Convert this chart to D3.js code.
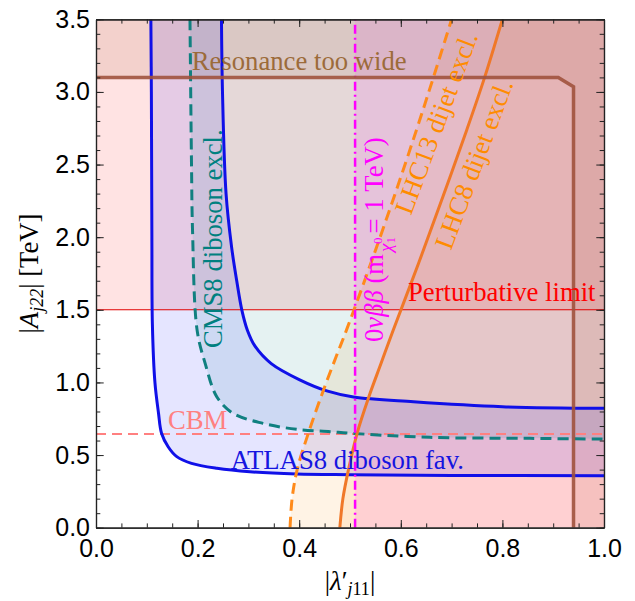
<!DOCTYPE html>
<html><head><meta charset="utf-8">
<script src="https://cdn.jsdelivr.net/npm/d3@7"></script>
<style>
body{margin:0;background:#fff;}
svg{display:block;}
text{font-family:"Liberation Serif","Times New Roman",serif;}
.tick text{font-family:"Liberation Sans",Arial,sans-serif;}
</style>
</head><body>
<svg id="chart" width="635" height="601"></svg>
<script>
// ---- data ----
const xTickValues = [0, 0.2, 0.4, 0.6, 0.8, 1.0];
const yTickValues = [0, 0.5, 1.0, 1.5, 2.0, 2.5, 3.0, 3.5];
const atlasInner = [[0.108,3.5],[0.109,3.0],[0.110,2.0],[0.111,1.4],[0.116,1.0],[0.123,0.79],[0.129,0.65],[0.142,0.557],[0.159,0.489],[0.188,0.443],[0.238,0.409],[0.303,0.385],[0.395,0.37],[0.5,0.365],[0.7,0.36],[1.0,0.358]];
const atlasOuter = [[0.247,3.5],[0.249,3.0],[0.256,2.3],[0.267,1.93],[0.277,1.7],[0.287,1.5],[0.298,1.36],[0.313,1.25],[0.345,1.13],[0.40,1.02],[0.456,0.94],[0.507,0.90],[0.625,0.867],[0.8,0.833],[1.0,0.822]];
const cmsExcl = [[0.185,3.5],[0.188,2.5],[0.190,2.05],[0.199,1.36],[0.215,1.13],[0.238,0.90],[0.270,0.787],[0.329,0.718],[0.395,0.677],[0.461,0.661],[0.502,0.65],[0.657,0.622],[0.854,0.615],[1.0,0.61]];
const lhc13 = [[0.382,0],[0.386,0.2],[0.396,0.4],[0.418,0.65],[0.447,0.94],[0.473,1.18],[0.493,1.36],[0.541,1.82],[0.587,2.28],[0.631,2.74],[0.666,3.12],[0.7,3.5]];
const lhc8 = [[0.48,0],[0.486,0.2],[0.497,0.4],[0.514,0.65],[0.537,0.9],[0.561,1.13],[0.585,1.36],[0.635,1.82],[0.683,2.28],[0.73,2.74],[0.765,3.1],[0.8,3.5]];
const resonance = [[0,3.1],[0.91,3.1],[0.94,3.035],[0.94,0]];
const perturbativeLimit = 1.5;
const cbmLevel = 0.645;
const zeroNuBB = 0.51;

// ---- layout ----
const svg = d3.select("#chart");
const x = d3.scaleLinear().domain([0,1]).range([96,604]);
const y = d3.scaleLinear().domain([0,3.5]).range([527.7,19.3]);
const X0=x(0),X1=x(1),Y0=y(0),Y1=y(3.5);

svg.append("defs").append("clipPath").attr("id","clip")
  .append("rect").attr("x",X0).attr("y",Y1).attr("width",X1-X0).attr("height",Y0-Y1);
const plot = svg.append("g").attr("clip-path","url(#clip)");

const line = d3.line().x(d=>x(d[0])).y(d=>y(d[1])).curve(d3.curveCatmullRom.alpha(0.5));
const lin = d3.line().x(d=>x(d[0])).y(d=>y(d[1]));
const P = (a,b)=>"L"+x(a)+","+y(b);

// fills
plot.append("rect").attr("x",X0).attr("y",Y1).attr("width",X1-X0).attr("height",y(perturbativeLimit)-Y1)
  .attr("fill","rgba(255,0,0,0.11)");
plot.append("path").attr("d", lin([[0,3.5],[1,3.5],[1,0],[0.94,0],[0.94,3.035],[0.91,3.1],[0,3.1]])+"Z")
  .attr("fill","rgba(160,82,45,0.12)");
plot.append("path").attr("d", line(lhc13)+P(1,3.5)+P(1,0)+"Z").attr("fill","rgba(255,140,0,0.1)");
plot.append("path").attr("d", line(lhc8)+P(1,3.5)+P(1,0)+"Z").attr("fill","rgba(255,140,0,0.1)");
plot.append("rect").attr("x",x(zeroNuBB)).attr("y",Y1).attr("width",X1-x(zeroNuBB)).attr("height",Y0-Y1)
  .attr("fill","rgba(255,0,255,0.1)");
plot.append("path").attr("d", line(cmsExcl)+P(1,3.5)+"Z").attr("fill","rgba(0,128,128,0.1)");
plot.append("path").attr("d", line(atlasInner)+line(atlasOuter.slice().reverse()).replace(/^M/,"L")+"Z")
  .attr("fill","rgba(0,0,255,0.1)");

// lines
plot.append("line").attr("x1",X0).attr("x2",X1).attr("y1",y(perturbativeLimit)).attr("y2",y(perturbativeLimit))
  .attr("stroke","#e00000").attr("stroke-width",1.1);
plot.append("line").attr("x1",X0).attr("x2",X1).attr("y1",y(cbmLevel)).attr("y2",y(cbmLevel))
  .attr("stroke","#ff8080").attr("stroke-width",2.2).attr("stroke-dasharray","10,6");
plot.append("path").attr("d",line(cmsExcl)).attr("fill","none").attr("stroke","#108080")
  .attr("stroke-width",3).attr("stroke-dasharray","11,6");
plot.append("path").attr("d",line(atlasInner)).attr("fill","none").attr("stroke","#1010e8").attr("stroke-width",3);
plot.append("path").attr("d",line(atlasOuter)).attr("fill","none").attr("stroke","#1010e8").attr("stroke-width",3);
plot.append("path").attr("d",line(lhc13)).attr("fill","none").attr("stroke","#ff8a1a")
  .attr("stroke-width",3).attr("stroke-dasharray","11,6");
plot.append("path").attr("d",line(lhc8)).attr("fill","none").attr("stroke","#f07828").attr("stroke-width",3);
plot.append("line").attr("x1",x(zeroNuBB)).attr("x2",x(zeroNuBB)).attr("y1",Y0).attr("y2",Y1)
  .attr("stroke","#ff00ff").attr("stroke-width",2.5).attr("stroke-dasharray","9,4,2,4");
plot.append("path").attr("d",lin(resonance)).attr("fill","none").attr("stroke","#a0523d")
  .attr("stroke-opacity",0.9).attr("stroke-width",3.5);

// labels
const FS = "26.7px";
function label(txt,px,py,color,rot){
  const t = svg.append("text").attr("transform",`translate(${px},${py})`+(rot?` rotate(${rot})`:""))
    .attr("fill",color).style("font-size",FS).text(txt);
  return t;
}
label("Resonance too wide",191.7,70,"#9c6b3a");
label("Perturbative limit",408,301,"#ff0000");
label("ATLAS8 diboson fav.",230.7,469.3,"#1515e0");
label("CBM",168,429,"#ff8080");
label("CMS8 diboson excl.",221.5,348,"#008080",-90);
label("LHC13 dijet excl.",411,216,"#ff8c00",-69.5);
label("LHC8 dijet excl.",451,251,"#ff8c00",-69.5);

const nb = svg.append("text").attr("transform","translate(383,342) rotate(-90)").attr("fill","#ff00ff").style("font-size",FS);
nb.append("tspan").text("0");
nb.append("tspan").style("font-style","italic").text("νββ");
nb.append("tspan").text(" (m");
nb.append("tspan").attr("dx",2).attr("dy",9).style("font-size","19px").style("font-style","italic").text("χ");
nb.append("tspan").attr("dy",3).style("font-size","13px").text("1");
nb.append("tspan").attr("dx",-7).attr("dy",-13).style("font-size","13px").text("0");
nb.append("tspan").attr("dx",4).attr("dy",1).text("= 1 TeV)");

// axes
const xMinor = d3.range(0,1.0001,0.05);
const yMinor = d3.range(0,3.5001,0.1);
function styleAxis(g){ g.select(".domain").attr("stroke","#222").attr("stroke-width",1.2); g.selectAll(".tick line").attr("stroke","#222"); }
svg.append("g").attr("transform",`translate(0,${Y0})`)
  .call(d3.axisBottom(x).tickValues(xMinor).tickSize(-4.3).tickFormat("").tickSizeOuter(0)).call(styleAxis);
svg.append("g").attr("transform",`translate(0,${Y0})`)
  .call(d3.axisBottom(x).tickValues(xTickValues).tickSize(-7.7).tickSizeOuter(0).tickPadding(11.5).tickFormat(d3.format(".1f")))
  .call(styleAxis).call(g=>g.selectAll("text").style("font-size","25px").attr("fill","#000"));
svg.append("g").attr("transform",`translate(0,${Y1})`)
  .call(d3.axisTop(x).tickValues(xMinor).tickSize(-4.3).tickFormat("").tickSizeOuter(0)).call(styleAxis);
svg.append("g").attr("transform",`translate(0,${Y1})`)
  .call(d3.axisTop(x).tickValues(xTickValues).tickSize(-7.7).tickFormat("").tickSizeOuter(0)).call(styleAxis);
svg.append("g").attr("transform",`translate(${X0},0)`)
  .call(d3.axisLeft(y).tickValues(yMinor).tickSize(-4.3).tickFormat("").tickSizeOuter(0)).call(styleAxis);
svg.append("g").attr("transform",`translate(${X0},0)`)
  .call(d3.axisLeft(y).tickValues(yTickValues).tickSize(-7.7).tickSizeOuter(0).tickPadding(6).tickFormat(d3.format(".1f")))
  .call(styleAxis).call(g=>g.selectAll("text").style("font-size","25px").attr("fill","#000"));
svg.append("g").attr("transform",`translate(${X1},0)`)
  .call(d3.axisRight(y).tickValues(yMinor).tickSize(-4.3).tickFormat("").tickSizeOuter(0)).call(styleAxis);
svg.append("g").attr("transform",`translate(${X1},0)`)
  .call(d3.axisRight(y).tickValues(yTickValues).tickSize(-7.7).tickFormat("").tickSizeOuter(0)).call(styleAxis);

// axis titles
const xt = svg.append("text").attr("x",(X0+X1)/2).attr("y",590).attr("text-anchor","middle").style("font-size",FS).attr("fill","#000");
xt.append("tspan").text("|");
xt.append("tspan").style("font-style","italic").text("λ");
xt.append("tspan").text("′");
xt.append("tspan").attr("dy",5).style("font-size","18px").style("font-style","italic").text("j");
xt.append("tspan").style("font-size","18px").text("11");
xt.append("tspan").attr("dy",-5).text("|");

const yt = svg.append("text").attr("transform",`translate(38,${(Y0+Y1)/2}) rotate(-90)`).attr("text-anchor","middle").style("font-size",FS).attr("fill","#000");
yt.append("tspan").text("|");
yt.append("tspan").style("font-style","italic").text("A");
yt.append("tspan").attr("dy",5).style("font-size","18px").style("font-style","italic").text("j");
yt.append("tspan").style("font-size","18px").style("font-style","italic").text("22");
yt.append("tspan").attr("dy",-5).text("| [TeV]");
</script>
</body></html>
